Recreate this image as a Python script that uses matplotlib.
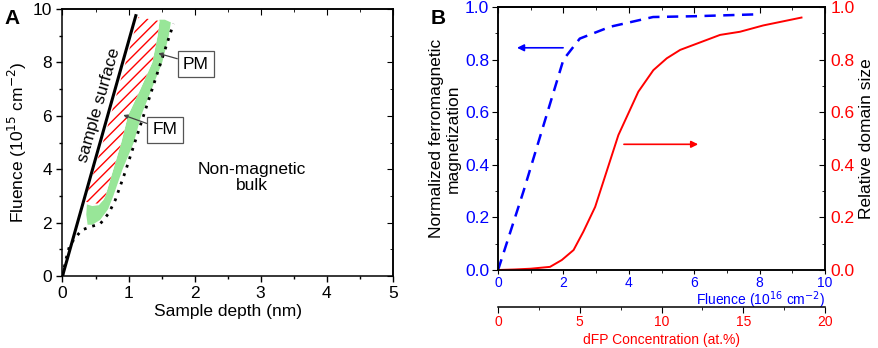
import matplotlib
matplotlib.use("Agg")
import matplotlib.pyplot as plt
import numpy as np
from matplotlib.patches import Polygon
from matplotlib.ticker import MultipleLocator

plt.rcParams['font.family'] = ['Liberation Sans', 'DejaVu Sans']
plt.rcParams['hatch.linewidth'] = 1.0
plt.rcParams['axes.linewidth'] = 1.1

# ---------------- data: panel A ----------------
surface_x = [0.0, 1.11]
surface_y = [0.0, 9.75]

border_x = [0.0, 0.05, 0.11, 0.20, 0.29, 0.43, 0.57, 0.70, 0.80, 0.95, 1.68]
border_y = [0.0, 0.60, 1.16, 1.45, 1.72, 1.85, 1.95, 2.35, 2.85, 3.90, 9.45]

pm_x = [1.47, 1.55, 1.64, 1.61, 1.51, 1.35, 1.19, 1.08, 0.91, 0.77, 0.69, 0.57,
        0.45, 0.38, 0.36, 0.37, 0.45, 0.55, 0.62, 0.65, 0.77, 0.89, 0.99, 1.18,
        1.36, 1.44]
pm_y = [9.60, 9.60, 9.50, 9.00, 8.00, 7.00, 6.00, 5.00, 4.00, 3.00, 2.50, 2.10,
        1.92, 1.92, 2.30, 2.68, 2.62, 2.65, 2.85, 3.00, 4.00, 5.00, 6.00, 7.00,
        8.00, 9.00]

fm_x = [0.34, 0.55, 0.62, 0.65, 0.77, 0.89, 0.99, 1.18, 1.36, 1.44, 1.47, 1.15,
        0.66, 0.35]
fm_y = [2.78, 2.70, 2.85, 3.00, 4.00, 5.00, 6.00, 7.00, 8.00, 9.00, 9.55, 9.70,
        5.40, 2.90]

# ---------------- data: panel B ----------------
mag_fluence = [0.0, 0.78, 2.0, 2.5, 3.43, 4.74, 6.0, 7.86]
mag_value = [0.0, 0.30, 0.80, 0.88, 0.925, 0.962, 0.965, 0.972]

dom_fluence = [0.0, 0.5, 1.0, 1.59, 1.95, 2.31, 2.61, 2.97, 3.22, 3.68, 4.29,
               4.75, 5.16, 5.57, 6.79, 7.40, 8.11, 9.28]
dom_value = [0.0, 0.002, 0.005, 0.012, 0.038, 0.076, 0.146, 0.24, 0.336, 0.513,
             0.678, 0.76, 0.805, 0.837, 0.894, 0.906, 0.93, 0.96]

dfp_ticks = [0, 5, 10, 15, 20]

BLUE = '#0000ff'
RED = '#ff0000'
GREEN = '#98e698'

fig = plt.figure(figsize=(8.79, 3.48), dpi=100)

######################
# Panel A
######################
axA = fig.add_axes([0.0711, 0.2069, 0.3757, 0.7672])
axA.set_xlim(0, 5)
axA.set_ylim(0, 10)

axA.add_patch(Polygon(np.column_stack([pm_x, pm_y]), closed=True,
                      facecolor=GREEN, edgecolor='none', zorder=1))
axA.add_patch(Polygon(np.column_stack([fm_x, fm_y]), closed=True,
                      facecolor='white', edgecolor=RED, hatch='///',
                      linewidth=0, zorder=2))
axA.plot(surface_x, surface_y, color='black', lw=2.2, zorder=4)
axA.plot(border_x, border_y, color='black', lw=2.0,
         linestyle=(0, (1, 2.2)), zorder=3)

axA.text(0.556, 6.4, 'sample surface', rotation=74, ha='center', va='center',
         fontsize=12.5, rotation_mode='anchor')
axA.text(2.87, 3.7, 'Non-magnetic\nbulk', ha='center', va='center',
         fontsize=12.5, linespacing=1.1)

box = dict(boxstyle='square,pad=0.3', fc='white', ec='#555555', lw=0.9)
axA.annotate('PM', xy=(1.45, 8.34), xytext=(2.02, 7.94), fontsize=12.5,
             ha='center', va='center', bbox=box,
             arrowprops=dict(arrowstyle='-|>', color='#444444', lw=0.9,
                             mutation_scale=6, shrinkA=0, shrinkB=0))
axA.annotate('FM', xy=(0.92, 6.03), xytext=(1.55, 5.47), fontsize=12.5,
             ha='center', va='center', bbox=box,
             arrowprops=dict(arrowstyle='-|>', color='#444444', lw=0.9,
                             mutation_scale=6, shrinkA=0, shrinkB=0))

axA.xaxis.set_major_locator(MultipleLocator(1))
axA.xaxis.set_minor_locator(MultipleLocator(0.5))
axA.yaxis.set_major_locator(MultipleLocator(2))
axA.yaxis.set_minor_locator(MultipleLocator(1))
axA.tick_params(which='major', direction='out', length=4, width=1.0,
                labelsize=12.5)
axA.tick_params(which='minor', direction='out', length=2.5, width=1.0)
secA_top = axA.secondary_xaxis('top')
secA_top.xaxis.set_major_locator(MultipleLocator(1))
secA_top.xaxis.set_minor_locator(MultipleLocator(0.5))
secA_top.tick_params(which='both', direction='in', labeltop=False)
secA_top.tick_params(which='major', length=4)
secA_top.tick_params(which='minor', length=2.5)
secA_right = axA.secondary_yaxis('right')
secA_right.yaxis.set_major_locator(MultipleLocator(2))
secA_right.yaxis.set_minor_locator(MultipleLocator(1))
secA_right.tick_params(which='both', direction='in', labelright=False)
secA_right.tick_params(which='major', length=4)
secA_right.tick_params(which='minor', length=2.5)

axA.set_xlabel('Sample depth (nm)', fontsize=12.5, labelpad=2)
axA.set_ylabel('Fluence (10$^{15}$ cm$^{-2}$)', fontsize=12.5, labelpad=3)
fig.text(0.005, 0.975, 'A', fontsize=15, fontweight='bold', va='top')

######################
# Panel B
######################
axB = fig.add_axes([0.5666, 0.2241, 0.3720, 0.7557])
axB.set_xlim(0, 10)
axB.set_ylim(0, 1)
axB.plot(mag_fluence, mag_value, color=BLUE, lw=1.8, linestyle=(0, (4.5, 3)))

axR = axB.twinx()
axR.set_ylim(0, 1)
axR.plot(dom_fluence, dom_value, color=RED, lw=1.4)

axB.annotate('', xy=(0.58, 0.845), xytext=(1.99, 0.845),
             arrowprops=dict(arrowstyle='-|>', color=BLUE, lw=1.2,
                             mutation_scale=10, shrinkA=0, shrinkB=0))
axR.annotate('', xy=(6.12, 0.478), xytext=(3.85, 0.478),
             arrowprops=dict(arrowstyle='-|>', color=RED, lw=1.2,
                             mutation_scale=10, shrinkA=0, shrinkB=0))

axB.xaxis.set_major_locator(MultipleLocator(2))
axB.xaxis.set_minor_locator(MultipleLocator(1))
axB.yaxis.set_major_locator(MultipleLocator(0.2))
axB.yaxis.set_minor_locator(MultipleLocator(0.1))
axB.tick_params(axis='y', which='major', direction='out', length=4,
                labelsize=12.5, labelcolor=BLUE, pad=2.5)
axB.tick_params(axis='y', which='minor', direction='out', length=2.5)
axB.tick_params(axis='x', which='major', direction='out', length=3,
                labelsize=10, labelcolor=BLUE, pad=1.5)
axB.tick_params(axis='x', which='minor', direction='out', length=2)
secB_top = axB.secondary_xaxis('top')
secB_top.xaxis.set_major_locator(MultipleLocator(2))
secB_top.xaxis.set_minor_locator(MultipleLocator(1))
secB_top.tick_params(which='both', direction='in', labeltop=False)
secB_top.tick_params(which='major', length=4)
secB_top.tick_params(which='minor', length=2.5)

axR.yaxis.set_major_locator(MultipleLocator(0.2))
axR.yaxis.set_minor_locator(MultipleLocator(0.1))
axR.tick_params(which='major', direction='in', length=4, labelsize=12.5,
                labelcolor=RED, pad=4)
axR.tick_params(which='minor', direction='in', length=2.5)

axB.set_xlabel('Fluence (10$^{16}$ cm$^{-2}$)', fontsize=10, color=BLUE,
               ha='right')
axB.xaxis.set_label_coords(1.0, -0.075)
axB.set_ylabel('Normalized ferromagnetic\nmagnetization', fontsize=12.5,
               labelpad=3, linespacing=1.1)
axR.set_ylabel('Relative domain size', fontsize=12.5, labelpad=3)

# dFP concentration axis
axC = axB.twiny()
axC.set_xlim(0, 20)
axC.xaxis.set_ticks_position('bottom')
axC.xaxis.set_label_position('bottom')
axC.spines['bottom'].set_position(('outward', 26.5))
for side in ['top', 'left', 'right']:
    axC.spines[side].set_visible(False)
axC.set_xticks(dfp_ticks)
axC.xaxis.set_minor_locator(MultipleLocator(2.5))
axC.tick_params(which='major', direction='out', length=4, labelsize=10,
                labelcolor=RED, pad=2)
axC.tick_params(which='minor', direction='out', length=2.5)
axC.set_xlabel('dFP Concentration (at.%)', fontsize=10, color=RED, labelpad=3)
fig.text(0.490, 0.975, 'B', fontsize=15, fontweight='bold', va='top')

fig.savefig('out.png', dpi=100)
